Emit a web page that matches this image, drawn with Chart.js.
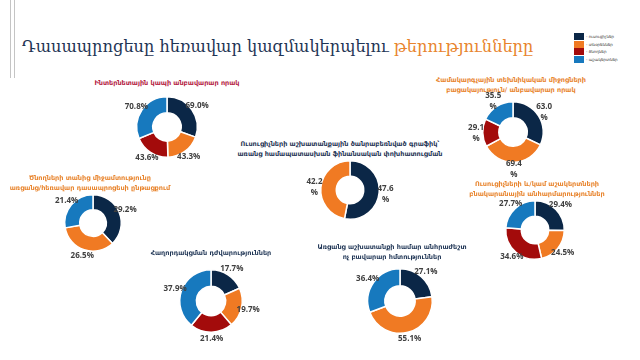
<!DOCTYPE html>
<html>
<head>
<meta charset="utf-8">
<script src="https://cdn.jsdelivr.net/npm/chart.js@4/dist/chart.umd.min.js"></script>
<style>
  body { margin: 0; width: 640px; height: 360px; overflow: hidden; position: relative; background: #fff; font-family: "DejaVu Sans", sans-serif; }
  .bar { position: absolute; top: 0; height: 78px; width: 1px; background: #c4c4c4; }
  #mainTitle { position: absolute; left: 22px; top: 37px; font-family: "DejaVu Serif", serif; font-size: 16.2px; color: #1f3555; white-space: nowrap; }
  #mainTitle span { color: #e8842d; }
  .ttl { position: absolute; font-size: 6.5px; font-weight: bold; text-align: center; line-height: 9.5px; white-space: nowrap; transform: translateX(-50%); }
  .box { position: absolute; }
  #legend { position: absolute; left: 574px; top: 33px; }
  .lg { display: flex; align-items: center; height: 7.5px; font-size: 4px; color: #333; }
  .lg i { display: inline-block; width: 10px; height: 7px; margin-right: 2px; }
</style>
</head>
<body>
<div class="bar" style="left:10px"></div>
<div class="bar" style="left:14px"></div>
<div id="mainTitle">Դասապրոցեսը հեռավար կազմակերպելու <span>թերությունները</span></div>
<div id="legend"></div>

<script>
// ---- data ----
const groups = ["ուսուցիչներ", "տնօրեններ", "ծնողներ", "աշակերտներ"];
const groupColors = ["#0b2747", "#f07a23", "#a30b0b", "#1779be"];

// null = group not shown in that chart
const internetValues  = [69.0, 43.3, 43.6, 70.8];
const equipmentValues = [63.0, 69.4, 29.1, 35.5];
const workloadValues  = [47.6, 42.2, null, null];
const parentsValues   = [29.2, 26.5, null, 21.4];
const housingValues   = [29.4, 24.5, 34.6, 27.7];
const commValues      = [17.7, 19.7, 21.4, 37.9];
const skillsValues    = [27.1, 55.1, null, 36.4];

const internetTitle  = ["Ինտերնետային կապի անբավարար որակ"];
const equipmentTitle = ["Համակարգչային տեխնիկական միջոցների", "բացակայություն/ անբավարար որակ"];
const workloadTitle  = ["Ուսուցիչների աշխատանքային ծանրաբեռնված գրաֆիկ՝", "առանց համապատասխան ֆինանսական  փոխհատուցման"];
const parentsTitle   = ["Ծնողների տանից միջամտությունը", "առցանց/հեռավար դասապրոցեսի ընթացքում"];
const housingTitle   = ["Ուսուցիչների և/կամ աշակերտների", "բնակարանային անհարմարություններ"];
const commTitle      = ["Հաղորդակցման դժվարություններ"];
const skillsTitle    = ["Առցանց աշխատանքի համար անհրաժեշտ", "ոչ բավարար հմտություններ"];

// ---- layout (centre, radius, title position) ----
const charts = [
  { values: internetValues,  title: internetTitle,  tColor: "#b3213f", cx: 167, cy: 127, r: 31, tx: 167, ty: 79,  wrap: false },
  { values: equipmentValues, title: equipmentTitle, tColor: "#e8842d", cx: 513, cy: 132, r: 31, tx: 511, ty: 76,  wrap: true  },
  { values: workloadValues,  title: workloadTitle,  tColor: "#1f3555", cx: 350, cy: 190, r: 30, tx: 340, ty: 140, wrap: true  },
  { values: parentsValues,   title: parentsTitle,   tColor: "#e8842d", cx: 93,  cy: 223, r: 29, tx: 90,  ty: 174, wrap: false },
  { values: housingValues,   title: housingTitle,   tColor: "#e8842d", cx: 535, cy: 230, r: 30, tx: 537, ty: 180, wrap: false },
  { values: commValues,      title: commTitle,      tColor: "#1f3555", cx: 211, cy: 301, r: 32, tx: 211, ty: 249, wrap: false },
  { values: skillsValues,    title: skillsTitle,    tColor: "#1f3555", cx: 400, cy: 301, r: 33, tx: 392, ty: 243, wrap: false }
];

// legend
const legend = document.getElementById("legend");
groups.forEach((g, i) => {
  const row = document.createElement("div");
  row.className = "lg";
  row.innerHTML = '<i style="background:' + groupColors[i] + '"></i>- ' + g;
  legend.appendChild(row);
});

// ---- label plugin: value near the rim of each slice ----
const rimLabels = {
  id: "rimLabels",
  afterDatasetsDraw(chart, args, opts) {
    const ctx = chart.ctx;
    const ds = chart.data.datasets[0];
    const meta = chart.getDatasetMeta(0);
    ctx.save();
    ctx.font = 'bold 8px "Open Sans", sans-serif';
    ctx.fillStyle = "#404040";
    ctx.textAlign = "center";
    ctx.textBaseline = "middle";
    meta.data.forEach((arc, i) => {
      const p = arc.getProps(["x", "y", "startAngle", "endAngle", "outerRadius"], true);
      const a = (p.startAngle + p.endAngle) / 2;
      const d = p.outerRadius * 1.22;
      const x = p.x + Math.cos(a) * d;
      const y = p.y + Math.sin(a) * d;
      const txt = ds.data[i].toFixed(1);
      if (opts.wrap) {
        ctx.fillText(txt, x, y - 5);
        ctx.fillText("%", x, y + 6);
      } else {
        ctx.fillText(txt + "%", x, y);
      }
    });
    ctx.restore();
  }
};

const pad = 24;
charts.forEach(c => {
  // title
  const t = document.createElement("div");
  t.className = "ttl";
  t.style.left = c.tx + "px";
  t.style.top = c.ty + "px";
  t.style.color = c.tColor;
  t.innerHTML = c.title.join("<br>");
  document.body.appendChild(t);

  // donut
  const size = 2 * (c.r + pad);
  const box = document.createElement("div");
  box.className = "box";
  box.style.left = (c.cx - size / 2) + "px";
  box.style.top = (c.cy - size / 2) + "px";
  box.style.width = size + "px";
  box.style.height = size + "px";
  const cv = document.createElement("canvas");
  box.appendChild(cv);
  document.body.appendChild(box);

  const labels = [], data = [], colors = [];
  c.values.forEach((v, i) => {
    if (v === null) return;
    labels.push(groups[i]);
    data.push(v);
    colors.push(groupColors[i]);
  });

  new Chart(cv, {
    type: "doughnut",
    data: {
      labels: labels,
      datasets: [{ data: data, backgroundColor: colors, borderColor: "#ffffff", borderWidth: 1.5 }]
    },
    options: {
      responsive: true,
      maintainAspectRatio: false,
      animation: false,
      devicePixelRatio: 1,
      cutout: "47%",
      layout: { padding: pad },
      plugins: {
        legend: { display: false },
        tooltip: { enabled: false },
        rimLabels: { wrap: c.wrap }
      }
    },
    plugins: [rimLabels]
  });
});
</script>
</body>
</html>
